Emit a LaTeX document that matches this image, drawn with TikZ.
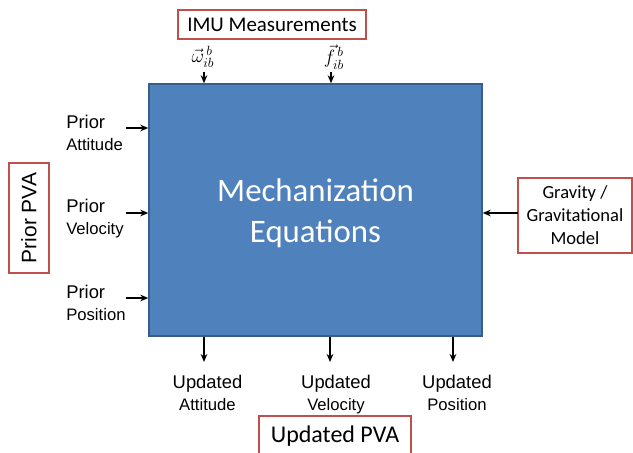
\documentclass[tikz,border=0pt]{standalone}
\usepackage{amsmath}
\usepackage{fontspec}
\setmainfont{Liberation Sans}
\newfontfamily\calib{Carlito}
\usetikzlibrary{arrows.meta,calc}
\definecolor{mechblue}{RGB}{79,129,189}
\definecolor{mechedge}{RGB}{56,93,138}
\definecolor{grpred}{RGB}{192,80,77}
\newcommand{\lblbig}{\fontsize{13.8}{16.2}\selectfont}
\newcommand{\lblsmall}{\fontsize{12.5}{16.2}\selectfont}

\tikzset{
  grpbox/.style={draw=grpred, line width=1.1pt, fill=white, inner sep=0pt, align=center},
  flow/.style={draw=black, line width=1.1pt, -{Stealth[length=6pt,width=5pt]}},
  sigtxt/.style={inner sep=0pt, align=center, font=\lblbig},
  statetxt/.style={sigtxt, text depth=0pt},
}

\begin{document}
\begin{tikzpicture}[x=0.75pt,y=0.75pt,yscale=-1,xscale=1]
	\useasboundingbox (0,0) rectangle (633,453);

	% main block
	\node [draw=mechedge, line width=1.1pt, fill=mechblue, minimum width=249.75pt, minimum height=189pt, inner sep=0pt] (mech) at (315.5,210) {};
	\node [inner sep=0pt, align=center, text=white, font={\calib\fontsize{24.6}{30.75}\selectfont}] (mechtxt) at (315.5,213) {Mechanization\\Equations};

	% group boxes
	\node [grpbox, minimum width=141pt, minimum height=21.75pt, font={\calib\fontsize{15.7}{18}\selectfont}] (imu) at (272,24.5) {IMU Measurements};
	\node [grpbox, rotate=90, minimum width=82.5pt, minimum height=30pt, font={\fontsize{15.7}{18}\selectfont}] (prior) at (29,218) {Prior PVA};
	\node [grpbox, minimum width=85.5pt, minimum height=56.25pt, font={\calib\fontsize{13.9}{17.25}\selectfont}] (grav) at (575,215.5) {Gravity /\\Gravitational\\Model};
	\node [grpbox, minimum width=114pt, minimum height=30pt, font={\calib\fontsize{18}{20}\selectfont}] (upd) at (335,436) {Updated PVA};

	% IMU inputs
	\node [sigtxt, font=\fontsize{14}{16}\selectfont] (omg) at (203,57) {$\vec{\omega}_{ib}^{\,b}$};
	\node [sigtxt, font=\fontsize{14}{16}\selectfont] (spf) at (334,57) {$\vec{f}_{ib}^{\,b}$};
	\coordinate (omgIn) at (204,72);
	\coordinate (spfIn) at (331,72);
	\draw [flow] (omgIn) -- (omgIn |- mech.north);
	\draw [flow] (spfIn) -- (spfIn |- mech.north);

	% prior states
	\node [statetxt, anchor=west, align=left] (pAtt) at (66,133) {Prior\\{\lblsmall Attitude}};
	\node [statetxt, anchor=west, align=left] (pVel) at (66,217) {Prior\\{\lblsmall Velocity}};
	\node [statetxt, anchor=west, align=left] (pPos) at (66,303) {Prior\\{\lblsmall Position}};
	\coordinate (attIn) at (126,128);
	\coordinate (velIn) at (126,213);
	\coordinate (posIn) at (126,298);
	\draw [flow] (attIn) -- (attIn -| mech.west);
	\draw [flow] (velIn) -- (velIn -| mech.west);
	\draw [flow] (posIn) -- (posIn -| mech.west);

	% gravity
	\coordinate (gravIn) at (518,213);
	\draw [flow] (gravIn) -- (gravIn -| mech.east);

	% updated states
	\node [statetxt] (uAtt) at (207.5,393) {Updated\\{\lblsmall Attitude}};
	\node [statetxt] (uVel) at (336,393) {Updated\\{\lblsmall Velocity}};
	\node [statetxt] (uPos) at (457,393) {Updated\\{\lblsmall Position}};
	\coordinate (attOut) at (204,362);
	\coordinate (velOut) at (330,362);
	\coordinate (posOut) at (453,362);
	\draw [flow] (attOut |- mech.south) -- (attOut);
	\draw [flow] (velOut |- mech.south) -- (velOut);
	\draw [flow] (posOut |- mech.south) -- (posOut);
\end{tikzpicture}
\end{document}
